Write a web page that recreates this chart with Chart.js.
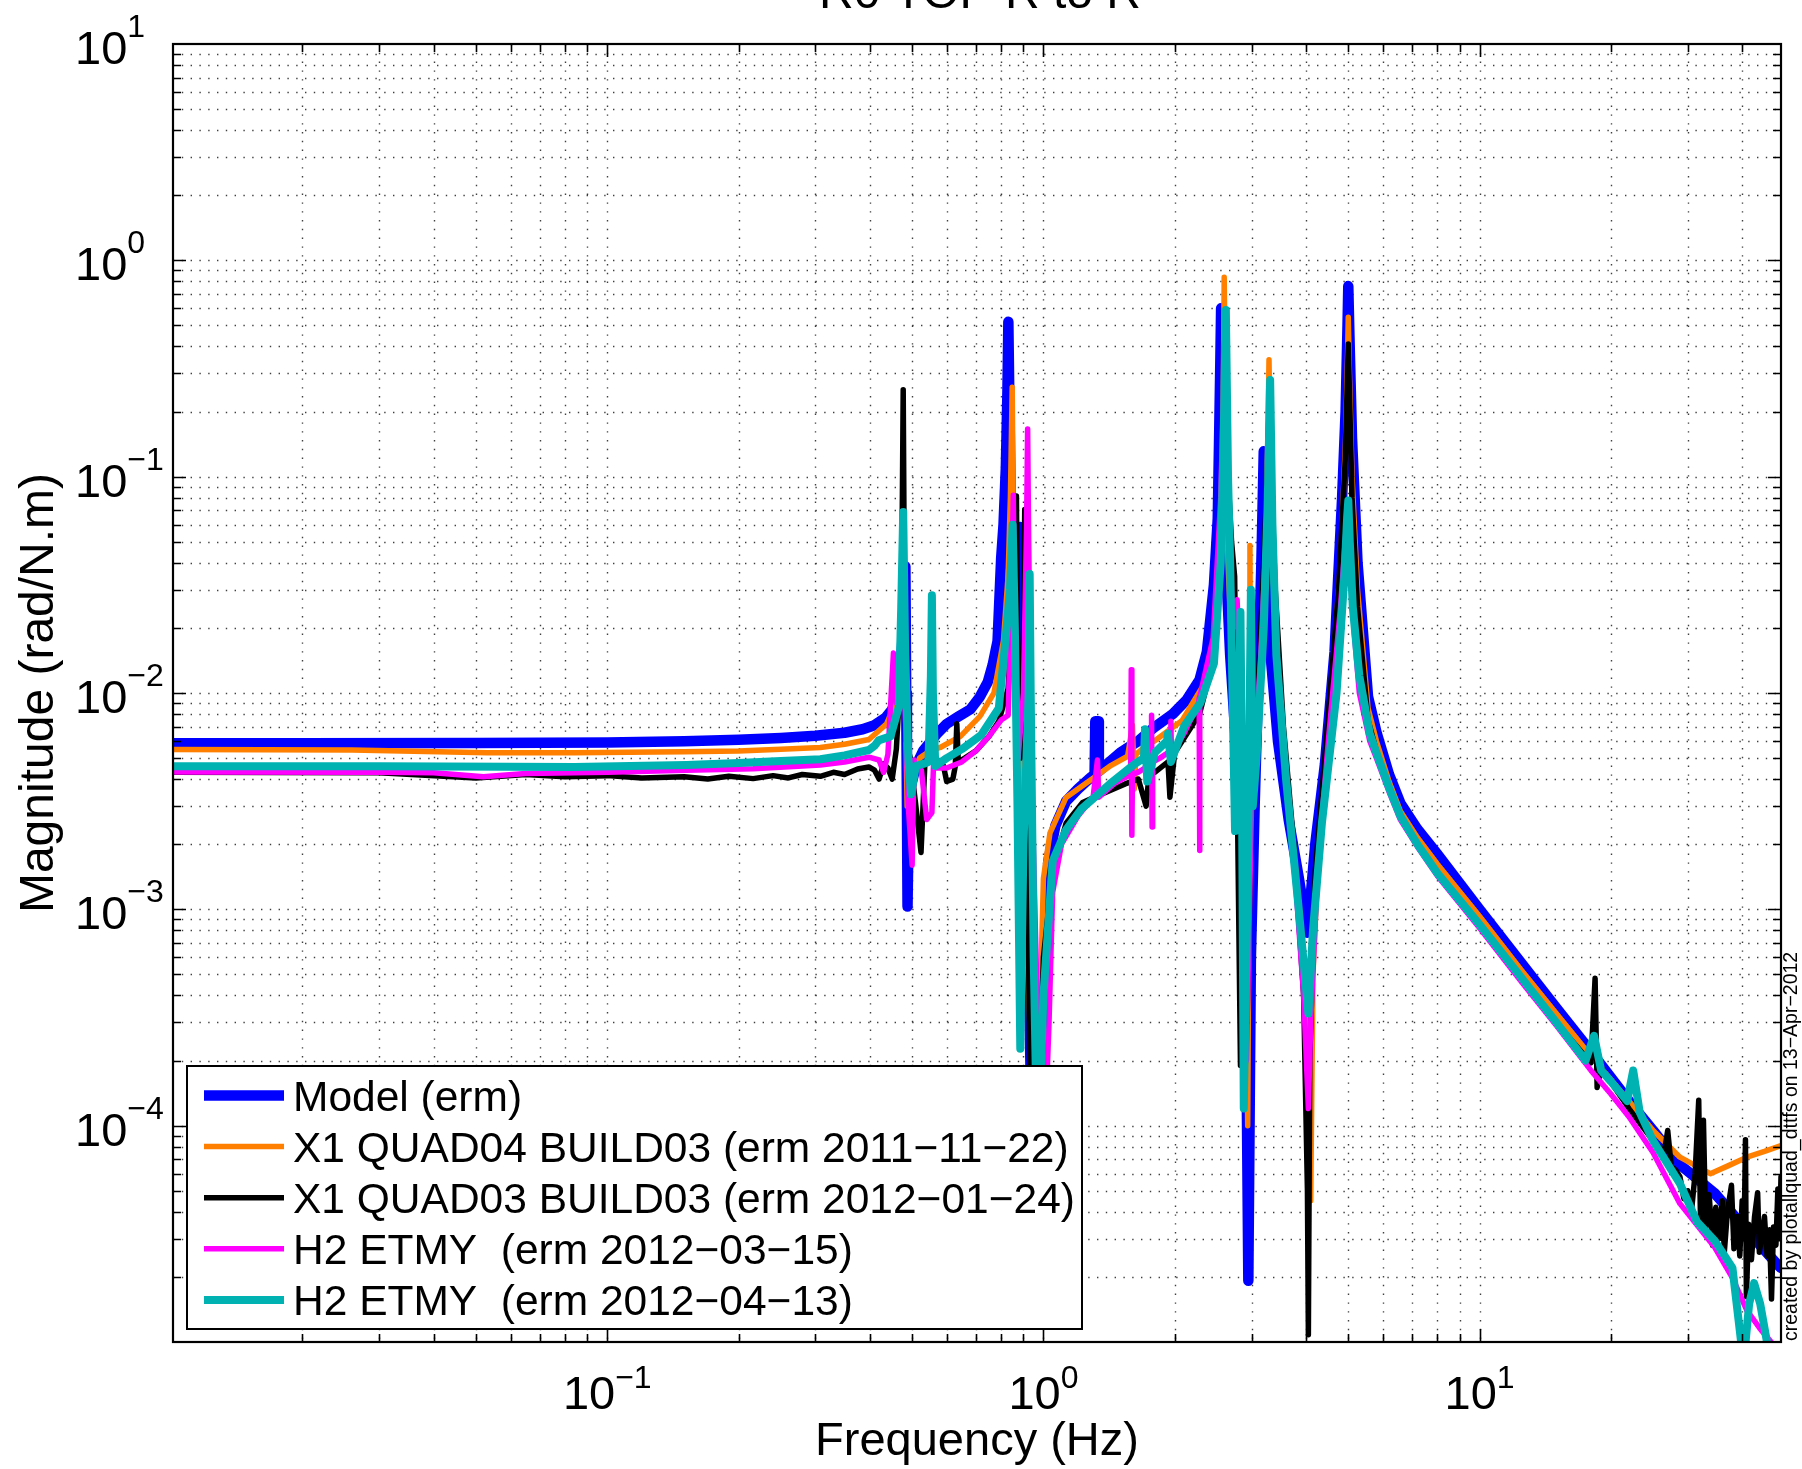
<!DOCTYPE html>
<html><head><meta charset="utf-8">
<script src="https://cdn.jsdelivr.net/npm/chart.js@4.4.0/dist/chart.umd.min.js"></script>
<style>html,body{margin:0;padding:0;background:#fff;}canvas{display:block;}</style>
</head><body>
<canvas id="c" width="1802" height="1469" style="width:1802px;height:1469px"></canvas>
<script>
// ---------------- DATA ----------------
const chartTitle = "R0 TOP R to R";
const xTitle = "Frequency (Hz)";
const yTitle = "Magnitude (rad/N.m)";
const footNote = "created by plotallquad_dttfs on 13\u2212Apr\u22122012";
const seriesLabels = [
  "Model (erm)",
  "X1 QUAD04 BUILD03 (erm 2011\u221211\u221222)",
  "X1 QUAD03 BUILD03 (erm 2012\u221201\u221224)",
  "H2 ETMY  (erm 2012\u221203\u221215)",
  "H2 ETMY  (erm 2012\u221204\u221213)"
];
const xTickExps = [-1, 0, 1];
const yTickExps = [1, 0, -1, -2, -3, -4];
const xRange = [0.0101, 49.1];
const yRange = [1e-5, 10];

const modelF = [0.0101,0.02,0.05,0.1,0.15,0.2,0.25,0.3,0.35,0.385,0.41,0.435,0.45,0.462,0.47,0.476,0.48,0.4825,0.4845,0.4865,0.488,0.4905,0.495,0.51,0.53,0.569,0.6,0.64,0.68,0.715,0.745,0.765,0.785,0.8,0.81,0.82,0.827,0.831,0.836,0.842,0.85,0.86,0.87,0.878,0.885,0.89,0.9,0.92,0.945,0.985,1.0,1.026,1.065,1.127,1.2,1.28,1.31,1.315,1.335,1.34,1.4,1.5,1.65,1.79,1.98,2.13,2.28,2.37,2.46,2.51,2.53,2.545,2.555,2.565,2.58,2.62,2.68,2.76,2.85,2.91,2.95,2.99,3.05,3.11,3.16,3.2,3.24,3.3,3.45,3.65,3.85,4.03,4.2,4.42,4.65,4.84,4.93,4.98,5.0,5.03,5.1,5.25,5.55,5.8,6.2,6.58,7.2,8,10,12.5,15,18,22,25,28.8,34.6,41,48,49.1];
const modelM = [5.85e-3,5.85e-3,5.87e-3,5.9e-3,5.98e-3,6.08e-3,6.2e-3,6.35e-3,6.55e-3,6.8e-3,7.1e-3,7.7e-3,8.4e-3,9.7e-3,0.0125,0.019,0.03,0.0385,0.01,3e-3,1.03e-3,2.2e-3,3.6e-3,4.6e-3,5.4e-3,6.45e-3,7.2e-3,7.8e-3,8.4e-3,9.6e-3,0.0112,0.0135,0.0174,0.042,0.06,0.11,0.25,0.52,0.2,0.07,0.035,0.022,0.02,0.035,0.0585,0.02,5e-3,1e-3,5e-5,1e-4,3.75e-4,1.67e-3,2.43e-3,3.16e-3,3.6e-3,4.05e-3,4.2e-3,7.4e-3,7.4e-3,4.35e-3,4.7e-3,5.3e-3,6.0e-3,6.9e-3,8.0e-3,9.3e-3,0.0115,0.0155,0.0316,0.064,0.166,0.35,0.6,0.3,0.12,0.04,0.015,6e-3,2e-3,5e-4,1.92e-5,6e-4,3e-3,0.012,0.04,0.131,0.045,0.017,5.97e-3,2.6e-3,1.4e-3,7.8e-4,2e-3,4.7e-3,0.0155,0.08,0.2,0.5,0.76,0.45,0.15,0.04,9.6e-3,6.6e-3,4.2e-3,3.1e-3,2.35e-3,1.8e-3,1.0e-3,5.6e-4,3.5e-4,2.2e-4,1.3e-4,9.5e-5,6.6e-5,4.87e-5,3.28e-5,2.3e-5,2.2e-5];

const q04F = [0.0101,0.026,0.053,0.084,0.15,0.2,0.25,0.308,0.35,0.398,0.437,0.45,0.462,0.47,0.476,0.479,0.482,0.487,0.495,0.52,0.55,0.58,0.645,0.715,0.77,0.81,0.83,0.84,0.848,0.853,0.86,0.875,0.9,0.93,0.96,1.0,1.035,1.127,1.25,1.42,1.56,1.6,1.615,1.63,1.7,1.79,2.08,2.38,2.48,2.55,2.58,2.597,2.615,2.65,2.72,2.82,2.9,2.94,2.965,2.975,2.99,3.05,3.15,3.23,3.27,3.29,3.31,3.36,3.5,3.7,3.9,4.05,4.1,4.15,4.3,4.55,4.8,4.93,4.98,5.0,5.03,5.1,5.25,5.55,5.8,6.2,6.58,7.2,8,10,12.5,15,18,22,25,28.8,33.8,37,41,45,49.1];
const q04M = [5.48e-3,5.45e-3,5.3e-3,5.3e-3,5.35e-3,5.4e-3,5.5e-3,5.6e-3,5.8e-3,6.1e-3,7.2e-3,8.3e-3,0.0105,0.016,0.035,0.05,0.01,3e-3,4.0e-3,5.0e-3,5.4e-3,5.6e-3,6.3e-3,7.8e-3,0.01,0.0175,0.035,0.08,0.259,0.06,0.02,8e-3,2e-3,3e-4,6e-5,1.39e-3,2.25e-3,3.29e-3,3.82e-3,4.59e-3,5.1e-3,7.1e-3,3.6e-3,5.2e-3,5.6e-3,5.97e-3,7.46e-3,0.0117,0.02,0.05,0.15,0.836,0.2,0.04,0.012,4e-3,1e-3,1e-4,2e-3,0.048,3e-3,5e-3,0.015,0.05,0.15,0.347,0.15,0.035,8e-3,2.5e-3,8e-4,2e-4,4.5e-5,5e-4,2.5e-3,9e-3,0.04,0.15,0.35,0.545,0.3,0.1,0.03,8.5e-3,6.0e-3,3.9e-3,2.85e-3,2.15e-3,1.62e-3,9.3e-4,5.2e-4,3.3e-4,2.1e-4,1.3e-4,9.5e-5,7.15e-5,6.0e-5,6.5e-5,7.15e-5,7.6e-5,8.1e-5];

const q03F = [0.0101,0.03,0.05,0.065,0.08,0.1,0.12,0.15,0.17,0.19,0.216,0.24,0.26,0.28,0.308,0.33,0.35,0.375,0.398,0.41,0.42,0.43,0.44,0.45,0.46,0.47,0.474,0.477,0.48,0.485,0.495,0.51,0.524,0.535,0.55,0.57,0.59,0.6,0.62,0.628,0.633,0.638,0.66,0.7,0.75,0.79,0.83,0.845,0.853,0.858,0.863,0.867,0.872,0.885,0.9,0.906,0.912,0.93,0.96,1.0,1.05,1.127,1.23,1.4,1.54,1.65,1.72,1.75,1.8,1.93,1.95,2.0,2.28,2.4,2.5,2.57,2.6,2.62,2.65,2.7,2.744,2.78,2.83,2.87,2.93,3.0,3.1,3.2,3.27,3.3,3.33,3.4,3.55,3.75,3.95,4.03,4.05,4.08,4.2,4.45,4.75,4.92,4.98,5.0,5.03,5.1,5.25,5.55,5.8,6.2,6.58,7.2,8,10,12.5,15,18,18.4,18.6,19,22,25,26.5,27,27.5,28.2,28.8,29.4,30,30.6,31.2,31.8,32.1,32.6,33,33.6,34.2,34.8,35.4,36,36.4,37,37.8,38.3,39,39.5,40,40.4,40.7,40.9,41.4,42,42.7,43.4,43.8,44.5,45,45.6,46.2,46.7,47.2,47.8,48.3,48.7,49.1];
const q03M = [4.3e-3,4.28e-3,4.05e-3,4.2e-3,4.1e-3,4.15e-3,4.05e-3,4.1e-3,4.0e-3,4.12e-3,4.02e-3,4.15e-3,4.05e-3,4.2e-3,4.12e-3,4.3e-3,4.2e-3,4.45e-3,4.55e-3,4.4e-3,4.0e-3,4.7e-3,4.5e-3,4.0e-3,5.5e-3,0.012,0.05,0.252,0.03,6e-3,5.0e-3,3e-3,1.83e-3,4.8e-3,4.9e-3,4.8e-3,4.6e-3,3.9e-3,4.0e-3,4.6e-3,7.2e-3,4.8e-3,5.0e-3,5.4e-3,6.3e-3,7.4e-3,0.0105,0.02,0.05,0.02,0.04,0.0815,0.02,5e-3,0.015,0.0706,0.01,2e-4,5e-5,6e-4,1.5e-3,2.5e-3,3.12e-3,3.5e-3,3.8e-3,4.0e-3,3.0e-3,4.4e-3,4.3e-3,4.8e-3,3.3e-3,5.3e-3,8e-3,0.012,0.025,0.1,0.4,0.55,0.1,0.05,0.0346,4e-3,1.9e-4,3e-3,3e-4,3e-3,0.01,0.04,0.12,0.27,0.1,0.03,7e-3,2e-3,4e-4,5e-5,1.08e-5,2e-4,1.5e-3,6e-3,0.03,0.12,0.3,0.41,0.25,0.08,0.025,7.5e-3,5.4e-3,3.6e-3,2.65e-3,1.98e-3,1.47e-3,8.5e-4,4.8e-4,3.0e-4,1.95e-4,4.8e-4,1.5e-4,1.85e-4,1.2e-4,8.5e-5,7.5e-5,9.5e-5,6.5e-5,6.2e-5,5.8e-5,4.6e-5,5.0e-5,4.0e-5,6.0e-5,1.31e-4,3.6e-5,1.06e-4,3.4e-5,4.8e-5,2.8e-5,4.2e-5,3.0e-5,4.5e-5,2.6e-5,4.0e-5,5.3e-5,2.7e-5,3.8e-5,2.5e-5,4.5e-5,3.0e-5,8.6e-5,1.62e-5,3.5e-5,2.4e-5,3.8e-5,4.9e-5,2.6e-5,3.2e-5,3.8e-5,2.5e-5,3.3e-5,1.58e-5,3.4e-5,2.8e-5,5.1e-5,3.0e-5,5.8e-5];

const h2aF = [0.0101,0.03,0.04,0.052,0.065,0.1,0.152,0.216,0.308,0.35,0.398,0.42,0.43,0.44,0.453,0.46,0.468,0.474,0.477,0.481,0.49,0.5,0.505,0.51,0.525,0.54,0.555,0.56,0.565,0.6,0.65,0.7,0.75,0.8,0.83,0.845,0.853,0.86,0.875,0.9,0.915,0.92,0.925,0.94,0.97,1.0,1.03,1.05,1.1,1.2,1.3,1.33,1.34,1.45,1.585,1.59,1.595,1.6,1.65,1.765,1.77,1.775,1.78,1.85,1.955,1.96,1.965,2.1,2.27,2.275,2.28,2.285,2.45,2.55,2.6,2.62,2.66,2.72,2.78,2.83,2.87,2.92,3.0,3.15,3.25,3.31,3.36,3.45,3.6,3.8,3.95,4.05,4.1,4.25,4.5,4.8,4.95,5.0,5.05,5.15,5.3,5.6,5.8,6.2,6.58,7.2,8,10,12.5,15,18,20,22,25,28.8,34.6,38,41,44,47,49.1];
const h2aM = [4.31e-3,4.3e-3,4.28e-3,4.1e-3,4.25e-3,4.3e-3,4.39e-3,4.47e-3,4.65e-3,4.8e-3,5.05e-3,4.9e-3,4.3e-3,5.2e-3,0.0153,9e-3,0.012,0.03,0.05,0.01,3e-3,1.6e-3,4.9e-3,4.6e-3,4.4e-3,2.6e-3,2.8e-3,4.8e-3,4.5e-3,4.5e-3,4.8e-3,5.4e-3,6.3e-3,7.5e-3,7.9e-3,0.03,0.082,0.02,5e-3,0.01,0.06,0.166,0.05,4e-3,3e-4,6e-5,3e-4,1.2e-3,2.0e-3,2.7e-3,3.3e-3,4.9e-3,3.3e-3,3.8e-3,4.2e-3,0.0128,2.2e-3,4.2e-3,4.3e-3,4.7e-3,7.9e-3,2.4e-3,4.8e-3,5.0e-3,5.4e-3,7.4e-3,5.2e-3,6.5e-3,9.0e-3,9.5e-3,1.87e-3,9.6e-3,0.018,0.08,0.35,0.5,0.06,0.02,0.027,0.01,1e-3,2e-4,3e-3,0.015,0.06,0.28,0.05,0.012,4e-3,1.2e-3,4e-4,1.2e-4,3e-4,1.5e-3,6e-3,0.025,0.06,0.07,0.05,0.02,0.01,6e-3,5.0e-3,3.5e-3,2.6e-3,1.95e-3,1.43e-3,8.2e-4,4.6e-4,2.9e-4,1.8e-4,1.4e-4,1.1e-4,7.5e-5,4.36e-5,2.74e-5,1.98e-5,1.4e-5,1.15e-5,9.8e-6,9e-6];

const h2bF = [0.0101,0.03,0.084,0.152,0.2,0.25,0.308,0.35,0.398,0.41,0.419,0.446,0.466,0.472,0.477,0.482,0.49,0.497,0.51,0.53,0.545,0.552,0.555,0.558,0.565,0.6,0.65,0.72,0.79,0.82,0.838,0.85,0.86,0.872,0.885,0.9,0.925,0.93,0.935,0.95,0.97,1.0,1.05,1.127,1.22,1.42,1.62,1.7,1.71,1.73,1.8,1.92,1.93,1.96,2.1,2.29,2.46,2.55,2.59,2.62,2.65,2.68,2.75,2.81,2.83,2.85,2.88,2.95,2.99,3.02,3.08,3.2,3.27,3.31,3.35,3.42,3.6,3.85,4.05,4.15,4.35,4.7,4.9,4.97,5.0,5.04,5.12,5.3,5.6,5.8,6.2,6.58,7.2,8,10,12.5,15,17.5,18.3,19,20,21.8,22.5,23.3,25,28.8,31.5,34.6,38,40.3,41.5,42.6,44,46.5,49.1];
const h2bM = [4.59e-3,4.58e-3,4.55e-3,4.65e-3,4.75e-3,4.85e-3,4.94e-3,5.15e-3,5.45e-3,5.7e-3,6.04e-3,6.3e-3,8.6e-3,0.025,0.0686,0.015,5e-3,3.4e-3,4.6e-3,4.7e-3,4.8e-3,0.012,0.0283,0.01,4.6e-3,5.0e-3,5.5e-3,6.4e-3,8.5e-3,0.0183,0.03,0.06,0.02,3e-3,2.27e-4,2e-3,0.01,0.0355,0.01,6e-4,6e-5,4e-4,1.67e-3,2.33e-3,2.9e-3,3.8e-3,4.7e-3,5.0e-3,6.8e-3,3.9e-3,5.3e-3,6.0e-3,6.5e-3,4.8e-3,7e-3,9e-3,0.0137,0.04,0.15,0.59,0.1,0.04,2.3e-3,0.01,0.0237,5e-3,1.2e-4,2e-3,0.03,3e-3,5e-3,0.02,0.08,0.28,0.06,0.015,4e-3,1e-3,3.3e-4,8e-4,2.5e-3,0.01,0.035,0.065,0.0776,0.05,0.025,0.012,6.5e-3,5.3e-3,3.65e-3,2.7e-3,2.0e-3,1.47e-3,8.5e-4,4.8e-4,3.0e-4,2.0e-4,2.6e-4,1.8e-4,1.6e-4,1.3e-4,1.8e-4,1.15e-4,8.5e-5,5.4e-5,3.6e-5,2.94e-5,2.2e-5,8e-6,1.5e-5,1.87e-5,1.5e-5,8e-6,7e-6];

const seriesColors = ["#0000FF", "#FF8000", "#000000", "#FF00FF", "#00B2B2"];
const seriesWidths = [10.5, 5.5, 5.5, 5.5, 8];

// ---------------- CHART ----------------
const FONT = '"Liberation Sans", Arial, Helvetica, sans-serif';
const seriesF = [modelF, q04F, q03F, h2aF, h2bF];
const seriesM = [modelM, q04M, q03M, h2aM, h2bM];

const datasets = seriesLabels.map((lab, i) => ({
  label: lab,
  data: seriesF[i].map((f, k) => ({x: f, y: seriesM[i][k]})),
  borderColor: seriesColors[i],
  backgroundColor: seriesColors[i],
  borderWidth: seriesWidths[i],
  pointRadius: 0,
  tension: 0,
  fill: false,
  clip: 0,
  borderCapStyle: 'round',
  borderJoinStyle: 'round',
  order: 5 - i
}));

function gridValues(min, max, e0, e1) {
  const out = [];
  for (let e = e0; e <= e1; e++) {
    for (let m = 1; m <= 9; m++) {
      const v = m * Math.pow(10, e);
      if (v > min * 1.0001 && v < max * 0.9999) out.push({v, major: m === 1});
    }
  }
  return out;
}

const matlabAxes = {
  id: 'matlabAxes',
  beforeDraw(chart) {
    const c = chart.ctx;
    c.save(); c.fillStyle = '#fff'; c.fillRect(0, 0, chart.width, chart.height); c.restore();
  },
  beforeDatasetsDraw(chart) {
    const {ctx: c, chartArea: a, scales: {x, y}} = chart;
    c.save();
    c.strokeStyle = 'rgba(0,0,0,0.75)';
    c.lineWidth = 1.4;
    c.setLineDash([1.4, 7.4]);
    for (const g of gridValues(xRange[0], xRange[1], -2, 1)) {
      const px = Math.round(x.getPixelForValue(g.v)) + 0.5;
      c.beginPath(); c.moveTo(px, a.top); c.lineTo(px, a.bottom); c.stroke();
    }
    for (const g of gridValues(yRange[0], yRange[1], -5, 0)) {
      const py = Math.round(y.getPixelForValue(g.v)) + 0.5;
      c.beginPath(); c.moveTo(a.left, py); c.lineTo(a.right, py); c.stroke();
    }
    c.restore();
  },
  afterDatasetsDraw(chart) {
    const {ctx: c, chartArea: a, scales: {x, y}} = chart;
    c.save();
    c.strokeStyle = '#000';
    c.lineWidth = 1.6;
    c.setLineDash([]);
    for (const g of gridValues(xRange[0], xRange[1], -2, 1)) {
      const px = Math.round(x.getPixelForValue(g.v)) + 0.5;
      const L = g.major ? 13 : 8;
      c.beginPath(); c.moveTo(px, a.bottom); c.lineTo(px, a.bottom - L);
      c.moveTo(px, a.top); c.lineTo(px, a.top + L); c.stroke();
    }
    for (const g of gridValues(yRange[0], yRange[1], -5, 0)) {
      const py = Math.round(y.getPixelForValue(g.v)) + 0.5;
      const L = g.major ? 13 : 8;
      c.beginPath(); c.moveTo(a.left, py); c.lineTo(a.left + L, py);
      c.moveTo(a.right, py); c.lineTo(a.right - L, py); c.stroke();
    }
    c.lineWidth = 2.2;
    c.strokeRect(a.left, a.top, a.right - a.left, a.bottom - a.top);

    // legend
    const lx0 = 187, lx1 = 1082, ly0 = 1066, ly1 = 1329;
    c.fillStyle = '#fff';
    c.fillRect(lx0, ly0, lx1 - lx0, ly1 - ly0);
    c.lineWidth = 2;
    c.strokeStyle = '#000';
    c.strokeRect(lx0, ly0, lx1 - lx0, ly1 - ly0);
    c.font = '42.5px ' + FONT;
    c.textBaseline = 'alphabetic';
    c.textAlign = 'left';
    chart.data.datasets.forEach((ds, i) => {
      const cy = 1095.5 + i * 51.1;
      c.strokeStyle = ds.borderColor;
      c.lineWidth = ds.borderWidth;
      c.lineCap = 'butt';
      c.beginPath(); c.moveTo(204, cy); c.lineTo(284, cy); c.stroke();
      c.fillStyle = '#000';
      c.fillText(ds.label, 293, cy + 15);
    });
    c.restore();
  },
  afterDraw(chart) {
    const {ctx: c, chartArea: a, scales: {x, y}} = chart;
    c.save();
    c.fillStyle = '#000';
    c.textBaseline = 'alphabetic';
    const expStr = e => (e < 0 ? '\u2212' + (-e) : String(e));
    for (const e of xTickExps) {
      const px = x.getPixelForValue(Math.pow(10, e));
      c.font = '47px ' + FONT; const w10 = c.measureText('10').width;
      c.font = '32px ' + FONT; const we = c.measureText(expStr(e)).width;
      const s = px - (w10 + we) / 2;
      c.textAlign = 'left';
      c.font = '47px ' + FONT; c.fillText('10', s, 1409);
      c.font = '32px ' + FONT; c.fillText(expStr(e), s + w10, 1388);
    }
    for (const e of yTickExps) {
      const py = y.getPixelForValue(Math.pow(10, e));
      c.textAlign = 'left';
      c.font = '47px ' + FONT; const w10 = c.measureText('10').width;
      c.fillText('10', 75, py + 20);
      c.font = '32px ' + FONT; c.fillText(expStr(e), 75 + w10, py - 7);
    }
    c.font = '47px ' + FONT;
    c.textAlign = 'center';
    c.fillText(xTitle, (a.left + a.right) / 2, 1455);
    c.save();
    c.translate(53, (a.top + a.bottom) / 2);
    c.rotate(-Math.PI / 2);
    c.font = '48px ' + FONT;
    c.fillText(yTitle, 0, 0);
    c.restore();
    c.font = '48px ' + FONT;
    c.textAlign = 'center';
    c.fillText(chartTitle, (a.left + a.right) / 2 + 3, 8);
    c.save();
    c.translate(1797, 1341);
    c.rotate(-Math.PI / 2);
    c.font = '19.5px ' + FONT;
    c.textAlign = 'left';
    c.fillText(footNote, 0, 0);
    c.restore();
    c.restore();
  }
};

new Chart(document.getElementById('c'), {
  type: 'line',
  data: {datasets},
  options: {
    responsive: false,
    devicePixelRatio: 1,
    animation: false,
    events: [],
    layout: {padding: {left: 173, right: 21, top: 44, bottom: 127}},
    plugins: {legend: {display: false}, tooltip: {enabled: false}, title: {display: false}},
    scales: {
      x: {type: 'logarithmic', min: xRange[0], max: xRange[1], display: false},
      y: {type: 'logarithmic', min: yRange[0], max: yRange[1], display: false}
    }
  },
  plugins: [matlabAxes]
});
</script>
</body></html>
